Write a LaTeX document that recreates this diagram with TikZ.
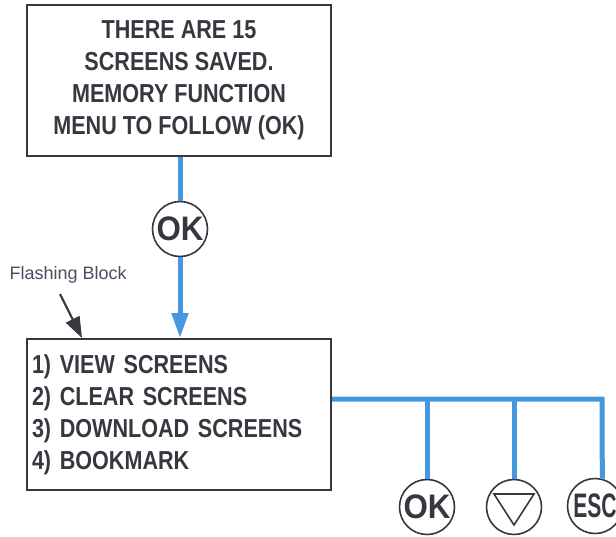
\documentclass[tikz,border=0pt]{standalone}
\usepackage{fontspec}
\setmainfont{Liberation Sans}[FakeStretch=0.83]
\newfontfamily\keyfont{Liberation Sans}
\newfontfamily\okkeyfont{Liberation Sans}[FakeStretch=0.92]
\newfontfamily\esckeyfont{Liberation Sans}[FakeStretch=0.62]
\usetikzlibrary{arrows.meta,positioning}
\definecolor{linkblue}{RGB}{70,152,222}
\definecolor{inkgray}{RGB}{58,54,64}
\definecolor{notegray}{RGB}{72,78,96}

\begin{document}
\begin{tikzpicture}[x=1pt,y=-1pt,
    every node/.style={text=inkgray},
    screen/.style={draw=inkgray,line width=2pt,inner sep=0pt,
        font=\bfseries\fontsize{26}{32}\selectfont},
    key/.style={circle,draw=inkgray,line width=1.6pt,minimum size=55pt,
        inner sep=0pt,font=\okkeyfont\bfseries\fontsize{34}{34}\selectfont},
    link/.style={draw=linkblue,line width=5pt},
    >={Triangle[length=25pt,width=16pt]}]

    % page frame
    \useasboundingbox (0,0) rectangle (616,536);

    %screens
    \node[screen,minimum width=304pt,minimum height=151pt,align=center]
        (saved) at (179,80.5)
        {THERE ARE 15\\SCREENS SAVED.\\MEMORY FUNCTION\\MENU TO FOLLOW (OK)};
    \node[screen,text width=294pt,inner xsep=5pt,minimum height=151pt,align=left]
        (menu) at (179,414.5)
        {1) VIEW SCREENS\\2) CLEAR SCREENS\\3) DOWNLOAD SCREENS\\4) BOOKMARK};

    %keys
    \node[key] (okkey) at (180,229) {OK};
    \node[key] (okkeyb) at (427,507) {OK};
    \node[key] (downkey) at (514,507) {};
    \node[key,font=\esckeyfont\bfseries\fontsize{34}{34}\selectfont] (esckey) at (595,506) {ESC};
    \draw[inkgray,line width=1.6pt] ([shift={(-20,-13)}]downkey.center)
        -- ([shift={(20,-13)}]downkey.center) -- ([shift={(0,18)}]downkey.center) -- cycle;

    %blue links
    \draw[link] (saved.south -| okkey.north) -- (okkey.north);
    \draw[link,->] (okkey.south) -- (okkey.south |- menu.north);
    \coordinate (busend) at (602,399);
    \draw[link] (menu.east |- busend) -- (busend) -- (esckey.75);
    \foreach \k in {okkeyb,downkey}
        \draw[link] (\k.north |- busend) -- (\k.north);

    %note
    \node[font=\keyfont\fontsize{18}{18}\selectfont,text=notegray,anchor=west]
        (flash) at (6,275) {Flashing Block};
    \coordinate (flashtail) at (60,294);
    \draw[-{Triangle[length=21pt,width=15pt]},line width=2.2pt,inkgray]
        (flashtail) -- ([xshift=56pt]menu.north west);
\end{tikzpicture}
\end{document}
